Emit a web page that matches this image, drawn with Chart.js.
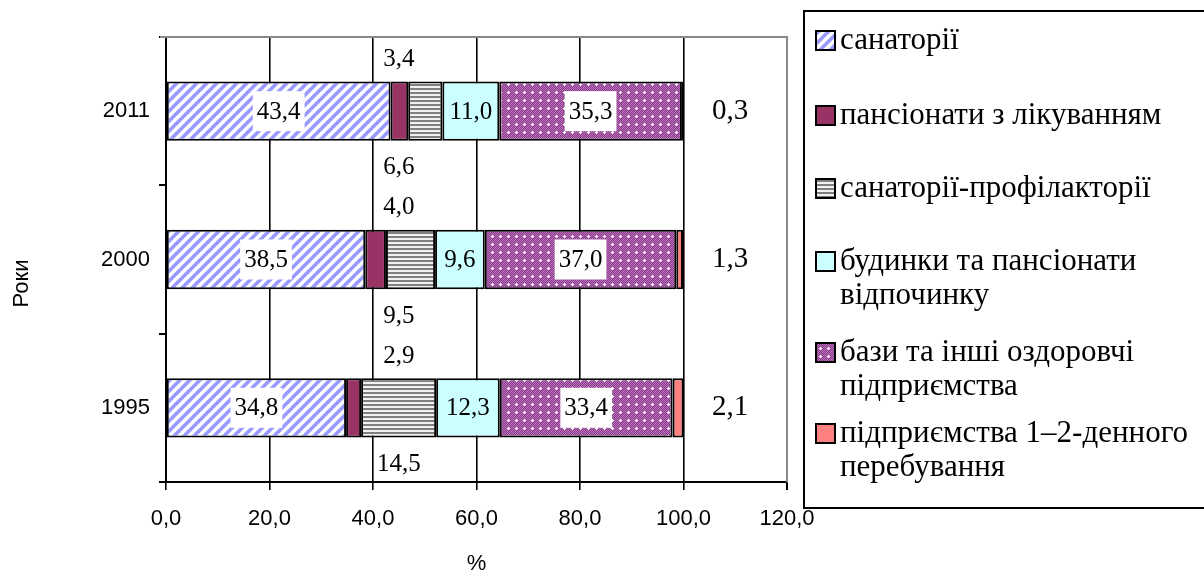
<!DOCTYPE html>
<html>
<head>
<meta charset="UTF-8">
<title>Структура санаторно-курортних закладів</title>
<script src="https://cdn.jsdelivr.net/npm/chart.js"></script>
<style>
  html, body { margin: 0; padding: 0; background: #fff; }
  #wrap { width: 1204px; height: 578px; }
</style>
</head>
<body>
<div id="wrap"><canvas id="chart" width="1204" height="578"></canvas></div>
<script>
// роки (знизу вгору)
var years = ['1995', '2000', '2011'];

// частки, % (по роках 1995, 2000, 2011)
var sanatorii      = [34.8, 38.5, 43.4];
var pansionaty     = [2.9, 4.0, 3.4];
var profilaktorii  = [14.5, 9.5, 6.6];
var budynky        = [12.3, 9.6, 11.0];
var bazy           = [33.4, 37.0, 35.3];
var odnodenni      = [2.1, 1.3, 0.3];

var xTicks = [0, 20, 40, 60, 80, 100, 120];

var legendLines = [
    ['санаторії'],
    ['пансіонати з лікуванням'],
    ['санаторії-профілакторії'],
    ['будинки та пансіонати', 'відпочинку'],
    ['бази та інші оздоровчі', 'підприємства'],
    ['підприємства 1–2-денного', 'перебування']
];

var SERIF = '"Liberation Serif", "DejaVu Serif", serif';
var SANS = '"Liberation Sans", "DejaVu Sans", sans-serif';

function fmt(v) {
    return v.toFixed(1).replace('.', ',');
}

// візерунки заливки
function makePattern(w, h, draw) {
    var c = document.createElement('canvas');
    c.width = w; c.height = h;
    var g = c.getContext('2d');
    draw(g);
    return document.getElementById('chart').getContext('2d').createPattern(c, 'repeat');
}

var diagPattern = makePattern(10, 10, function (g) {
    g.fillStyle = '#fff';
    g.fillRect(0, 0, 10, 10);
    g.strokeStyle = '#9999ff';
    g.lineWidth = 3.6;
    [[-5, 5, 5, -5], [0, 10, 10, 0], [5, 15, 15, 5]].forEach(function (l) {
        g.beginPath(); g.moveTo(l[0], l[1]); g.lineTo(l[2], l[3]); g.stroke();
    });
});

var stripePattern = makePattern(4, 4, function (g) {
    g.fillStyle = '#f2f2f2';
    g.fillRect(0, 0, 4, 4);
    g.fillStyle = '#7f7f7f';
    g.fillRect(0, 0, 4, 2);
});

var dotPattern = makePattern(8, 8, function (g) {
    g.fillStyle = '#8e338e';
    g.fillRect(0, 0, 8, 8);
    g.fillStyle = '#b57ab5';
    for (var yy = 0; yy < 8; yy++) {
        for (var xx = 0; xx < 8; xx++) {
            if ((xx + yy) % 2 === 0) g.fillRect(xx, yy, 1, 1);
        }
    }
    g.fillStyle = '#ffffff';
    g.fillRect(4, 3, 1, 3);
    g.fillRect(3, 4, 3, 1);
});

var fills = [diagPattern, '#993366', stripePattern, '#ccffff', dotPattern, '#ff8080'];
var seriesData = [sanatorii, pansionaty, profilaktorii, budynky, bazy, odnodenni];

var datasets = seriesData.map(function (d, i) {
    return {
        label: legendLines[i].join(' '),
        data: d,
        backgroundColor: fills[i],
        borderColor: '#000',
        borderWidth: 2,
        borderSkipped: false,
        barPercentage: 0.4,
        categoryPercentage: 1
    };
});

// підписи значень
var valueLabels = {
    id: 'valueLabels',
    afterDatasetsDraw: function (chart) {
        var ctx = chart.ctx;
        var xs = chart.scales.x;
        ctx.save();
        ctx.textAlign = 'center';
        ctx.textBaseline = 'middle';
        chart.data.datasets.forEach(function (ds, i) {
            var meta = chart.getDatasetMeta(i);
            meta.data.forEach(function (bar, j) {
                var p = bar.getProps(['x', 'y', 'base', 'height'], true);
                var text = fmt(ds.data[j]);
                var cx = (p.x + p.base) / 2;
                var cy = p.y;
                ctx.font = '25px ' + SERIF;
                ctx.fillStyle = '#000';
                if (i === 0 || i === 4) {
                    var tw = ctx.measureText(text).width;
                    ctx.fillStyle = '#fff';
                    ctx.fillRect(cx - tw / 2 - 4, cy - 20, tw + 8, 40);
                    ctx.fillStyle = '#000';
                    ctx.fillText(text, cx, cy + 1);
                } else if (i === 3) {
                    ctx.fillText(text, cx, cy + 1);
                } else if (i === 1) {
                    ctx.fillText(text, xs.getPixelForValue(45), cy - p.height / 2 - 22);
                } else if (i === 2) {
                    ctx.fillText(text, xs.getPixelForValue(45), cy + p.height / 2 + 27);
                } else {
                    ctx.font = '29px ' + SERIF;
                    ctx.fillText(text, xs.getPixelForValue(109), cy);
                }
            });
        });
        ctx.restore();
    }
};

// рамка області побудови, підпис осі «Роки» та легенда
var frameAndLegend = {
    id: 'frameAndLegend',
    beforeDatasetsDraw: function (chart) {
        var a = chart.chartArea;
        var ctx = chart.ctx;
        ctx.save();
        ctx.strokeStyle = '#888';
        ctx.lineWidth = 2;
        ctx.beginPath();
        ctx.moveTo(a.left - 6, a.top);
        ctx.lineTo(a.right, a.top);
        ctx.lineTo(a.right, a.bottom);
        ctx.stroke();
        ctx.restore();
    },
    afterDraw: function (chart) {
        var ctx = chart.ctx;
        var a = chart.chartArea;
        ctx.save();
        ctx.translate(22, (a.top + a.bottom) / 2 + 24);
        ctx.rotate(-Math.PI / 2);
        ctx.font = '22px ' + SANS;
        ctx.fillStyle = '#000';
        ctx.textAlign = 'center';
        ctx.textBaseline = 'middle';
        ctx.fillText('Роки', 0, 0);
        ctx.restore();

        var rowY = [40, 115, 188, 261, 352, 433];
        ctx.save();
        ctx.strokeStyle = '#000';
        ctx.lineWidth = 2;
        ctx.strokeRect(804, 11, 420, 497);
        ctx.font = '31px ' + SERIF;
        ctx.textBaseline = 'middle';
        ctx.textAlign = 'left';
        legendLines.forEach(function (lines, i) {
            var y = rowY[i];
            ctx.fillStyle = fills[i];
            ctx.fillRect(816, y - 9, 19, 19);
            ctx.strokeStyle = '#000';
            ctx.lineWidth = 2;
            ctx.strokeRect(816, y - 9, 19, 19);
            ctx.fillStyle = '#000';
            lines.forEach(function (t, k) {
                ctx.fillText(t, 840, y + 1 + k * 34);
            });
        });
        ctx.restore();
    }
};

var chart = new Chart(document.getElementById('chart'), {
    type: 'bar',
    data: { labels: years, datasets: datasets },
    plugins: [valueLabels, frameAndLegend],
    options: {
        responsive: false,
        animation: false,
        indexAxis: 'y',
        layout: { padding: { left: 0, right: 417, top: 37, bottom: 0 } },
        plugins: { legend: { display: false }, tooltip: { enabled: false } },
        scales: {
            x: {
                stacked: true,
                min: 0,
                max: 120,
                afterBuildTicks: function (s) {
                    s.ticks = xTicks.map(function (v) { return { value: v }; });
                },
                afterFit: function (s) { s.height = 96; },
                ticks: {
                    color: '#000',
                    font: { family: SANS, size: 22 },
                    padding: 16,
                    callback: function (v) { return fmt(v); }
                },
                grid: {
                    color: function (c) { return c.tick && c.tick.value === 120 ? '#888' : '#000'; },
                    lineWidth: function (c) { return c.tick && c.tick.value === 120 ? 2 : 1.6; },
                    tickLength: 8,
                    tickColor: '#000'
                },
                border: { color: '#000', width: 2 },
                title: {
                    display: true,
                    text: '%',
                    color: '#000',
                    font: { family: SANS, size: 22 },
                    padding: { top: 0, bottom: 1 }
                }
            },
            y: {
                stacked: true,
                reverse: true,
                afterFit: function (s) { s.width = 166; },
                ticks: {
                    color: '#000',
                    font: { family: SANS, size: 22 },
                    padding: 9
                },
                grid: {
                    offset: true,
                    drawOnChartArea: false,
                    tickLength: 7,
                    color: '#000',
                    lineWidth: 2
                },
                border: { color: '#000', width: 2 }
            }
        }
    }
});
</script>
</body>
</html>
